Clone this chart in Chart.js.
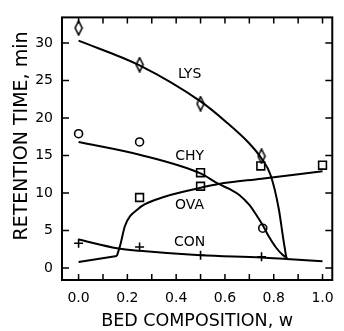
<!DOCTYPE html>
<html>
<head>
<meta charset="utf-8">
<script src="https://cdn.jsdelivr.net/npm/chart.js@4.4.0/dist/chart.umd.min.js"></script>
<style>
  html, body { margin: 0; padding: 0; background: #fff; }
  #wrap { width: 344px; height: 331px; }
</style>
</head>
<body>
<div id="wrap"><canvas id="chart"></canvas></div>
<script>
// measured points (bed composition w, retention time in min)
const lysW = [0, 0.25, 0.5, 0.75];
const lysT = [32.0, 27.1, 21.9, 14.9];
const chyW = [0, 0.25, 0.5, 0.755];
const chyT = [17.9, 16.8, 12.7, 5.3];
const ovaW = [0.25, 0.5, 0.747, 1.0];
const ovaT = [9.4, 10.9, 13.6, 13.7];
const conW = [0, 0.25, 0.5, 0.75];
const conT = [3.3, 2.8, 1.7, 1.5];

// fitted curves
const lysCurveW = [0, 0.25, 0.5, 0.6, 0.7, 0.75, 0.787, 0.82, 0.84, 0.852];
const lysCurveT = [30.3, 27.0, 22.2, 19.6, 16.6, 14.6, 12.4, 8.0, 3.7, 1.3];
const chyCurveW = [0, 0.25, 0.5, 0.574, 0.62, 0.66, 0.7, 0.73, 0.755, 0.78, 0.81, 0.835, 0.855];
const chyCurveT = [16.8, 15.1, 12.6, 11.2, 10.5, 9.7, 8.4, 7.0, 5.7, 4.2, 2.7, 1.8, 1.3];
const ovaFlatW = [0, 0.157];
const ovaFlatT = [0.8, 1.6];
const ovaCurveW = [0.157, 0.172, 0.19, 0.245, 0.325, 0.5, 0.574, 0.75, 1.0];
const ovaCurveT = [1.6, 3.2, 5.6, 7.9, 9.2, 10.7, 11.2, 11.9, 12.9];
const conCurveW = [0, 0.165, 0.25, 0.5, 0.75, 0.852, 1.0];
const conCurveT = [3.8, 2.6, 2.3, 1.7, 1.4, 1.2, 0.9];

const curveNames = ["LYS", "CHY", "OVA", "CON"];
const nameW = [0.455, 0.455, 0.455, 0.455];
const nameT = [25.8, 14.9, 8.3, 3.4];

const xTicks = [0, 0.1, 0.2, 0.3, 0.4, 0.5, 0.6, 0.7, 0.8, 0.9, 1.0];
const yTicks = [0, 5, 10, 15, 20, 25, 30];

const pts = (xs, ys) => xs.map((x, i) => ({ x: x, y: ys[i] }));

// tall narrow diamond marker
const diamond = document.createElement("canvas");
diamond.width = 10; diamond.height = 16;
(function () {
  const c = diamond.getContext("2d");
  c.fillStyle = "#fff";
  c.strokeStyle = "#000";
  c.lineWidth = 1.6;
  c.beginPath();
  c.moveTo(5, 1); c.lineTo(8.5, 8); c.lineTo(5, 15); c.lineTo(1.5, 8); c.closePath();
  c.fill(); c.stroke();
})();

const curve = (xs, ys) => ({
  type: "line",
  data: pts(xs, ys),
  borderColor: "#000",
  borderWidth: 2,
  pointRadius: 0,
  cubicInterpolationMode: "monotone",
  fill: false,
});
const marks = (xs, ys, style, r) => ({
  type: "scatter",
  data: pts(xs, ys),
  pointStyle: style,
  pointRadius: r,
  pointBorderColor: "#000",
  pointBackgroundColor: "#fff",
  pointBorderWidth: 1.6,
  showLine: false,
});

const frame = {
  id: "frame",
  afterDraw(chart) {
    const { ctx, chartArea: a, scales } = chart;
    ctx.save();
    ctx.strokeStyle = "#000";
    ctx.lineWidth = 2;
    ctx.strokeRect(a.left, a.top, a.right - a.left, a.bottom - a.top);
    ctx.lineWidth = 1.5;
    ctx.beginPath();
    xTicks.forEach((v) => {
      const px = scales.x.getPixelForValue(v);
      ctx.moveTo(px, a.bottom); ctx.lineTo(px, a.bottom - 6);
      ctx.moveTo(px, a.top); ctx.lineTo(px, a.top + 6);
    });
    yTicks.forEach((v) => {
      const py = scales.y.getPixelForValue(v);
      ctx.moveTo(a.left, py); ctx.lineTo(a.left + 7, py);
      ctx.moveTo(a.right, py); ctx.lineTo(a.right - 7, py);
    });
    ctx.stroke();
    ctx.fillStyle = "#000";
    ctx.font = "14px 'DejaVu Sans'";
    ctx.textAlign = "center";
    ctx.textBaseline = "middle";
    curveNames.forEach((n, i) => {
      ctx.fillText(n, scales.x.getPixelForValue(nameW[i]), scales.y.getPixelForValue(nameT[i]));
    });
    // y axis title, sits a little above the axis middle in the original
    ctx.translate(22, 136);
    ctx.rotate(-Math.PI / 2);
    ctx.font = "19px 'DejaVu Sans'";
    ctx.fillText("RETENTION TIME, min", 0, 0);
    ctx.restore();
  },
};

new Chart(document.getElementById("chart"), {
  data: {
    datasets: [
      curve(lysCurveW, lysCurveT),
      curve(chyCurveW, chyCurveT),
      Object.assign(curve(ovaFlatW, ovaFlatT), { cubicInterpolationMode: "default", tension: 0 }),
      curve(ovaCurveW, ovaCurveT),
      curve(conCurveW, conCurveT),
      marks(lysW, lysT, diamond, 8),
      Object.assign(marks(chyW, chyT, ["circle", "circle", "rect", "circle"], 4), {
        pointRadius: [4, 4, 5.5, 4],
      }),
      marks(ovaW, ovaT, "rect", 5.5),
      marks(conW, conT, "cross", 4.5),
    ],
  },
  options: {
    responsive: true,
    maintainAspectRatio: false,
    animation: false,
    events: [],
    layout: { padding: { top: 14, right: 6, left: 0, bottom: 0 } },
    plugins: { legend: { display: false }, tooltip: { enabled: false } },
    scales: {
      x: {
        type: "linear",
        min: -0.068,
        max: 1.04,
        afterBuildTicks: (s) => { s.ticks = xTicks.filter((v, i) => i % 2 === 0).map((v) => ({ value: v })); },
        afterFit: (s) => { s.height = 51; },
        grid: { display: false, drawTicks: false },
        border: { display: false },
        ticks: {
          color: "#000",
          padding: 10,
          maxRotation: 0,
          font: { family: "'DejaVu Sans'", size: 14 },
          callback: (v) => v.toFixed(1),
        },
        title: {
          display: true,
          text: "BED COMPOSITION, w",
          color: "#000",
          font: { family: "'DejaVu Sans'", size: 17.5, lineHeight: 1 },
          padding: { top: 0, bottom: 1 },
        },
      },
      y: {
        type: "linear",
        min: -1.6,
        max: 33.4,
        afterBuildTicks: (s) => { s.ticks = yTicks.map((v) => ({ value: v })); },
        afterFit: (s) => { s.width = 62; },
        grid: { display: false, drawTicks: false },
        border: { display: false },
        ticks: {
          color: "#000",
          padding: 9,
          font: { family: "'DejaVu Sans'", size: 14 },
        },
      },
    },
  },
  plugins: [frame],
});
</script>
</body>
</html>
